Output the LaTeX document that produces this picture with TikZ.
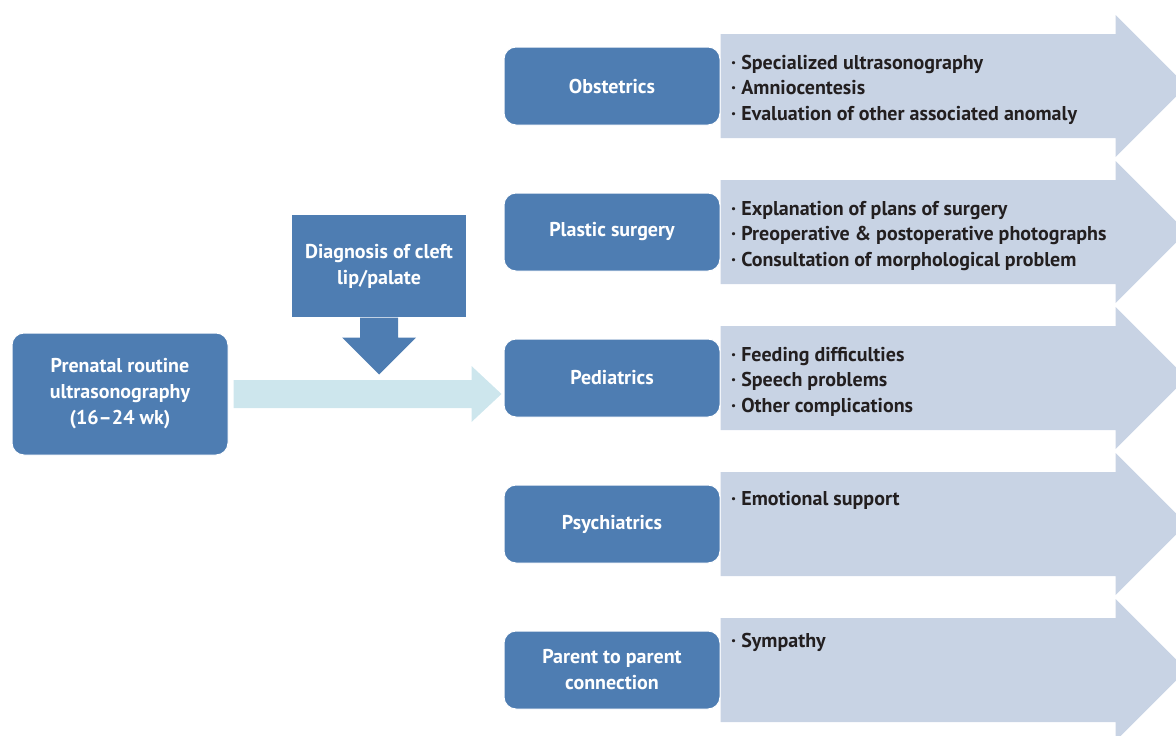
\documentclass[tikz,border=0pt]{standalone}
\usepackage{fontspec}
\setmainfont{PT Sans}
\usetikzlibrary{backgrounds}
\definecolor{deptblue}{RGB}{78,125,178}
\definecolor{panelgrey}{RGB}{200,211,228}
\definecolor{flowcyan}{RGB}{205,230,237}
\definecolor{listtext}{RGB}{35,31,32}

\begin{document}
\begin{tikzpicture}
[x=1pt,y=-1pt,%
  dept/.style={shape=rectangle,rounded corners=12pt,fill=deptblue,draw=white,
    line width=1pt,text=white,minimum width=216pt,minimum height=78pt,
    align=center,inner sep=0pt,font=\bfseries\fontsize{20}{26}\selectfont},%
  items/.style={anchor=north west,align=left,inner sep=0pt,text=listtext,
    font=\bfseries\fontsize{20}{25.5}\selectfont},%
  panel/.style={fill=panelgrey}]
\useasboundingbox (0,0) rectangle (1176,736);
\clip (0,0) rectangle (1176,736);

% left side
\node[dept,minimum height=122pt] (prenatal) at (120,394)
  {Prenatal routine\\ultrasonography\\(16--24 wk)};
\node[dept,rounded corners=0pt,draw=none,minimum width=174pt,minimum height=102pt]
  (diag) at (379,266) {Diagnosis of cleft\\lip/palate};

% departments
\foreach \name/\y/\txt in {obs/86/Obstetrics,plastic/232/Plastic surgery,
    ped/378/Pediatrics,psych/524/Psychiatrics,
    parent/670/{Parent to parent\\connection}}
  \node[dept] (\name) at (612,\y) {\txt};

% what each one does
\node[items] (obs-list) at (731,51)
  {\strut· Specialized ultrasonography\\· Amniocentesis\\· Evaluation of other associated anomaly};
\node[items] (plastic-list) at (731,197)
  {\strut· Explanation of plans of surgery\\· Preoperative \& postoperative photographs\\· Consultation of morphological problem};
\node[items] (ped-list) at (731,343)
  {\strut· Feeding difficulties\\· Speech problems\\· Other complications};
\node[items] (psych-list) at (731,487) {\strut· Emotional support};
\node[items] (parent-list) at (731,629) {\strut· Sympathy};

% big arrows behind
\begin{scope}[on background layer]
\foreach \name in {obs,plastic,ped,psych,parent}
  \fill[panel] ([yshift=52pt]\name.east) -- ++(395,0) -- ++(0,-19)
    -- ++(71,71) -- ++(-71,71) -- ++(0,-19) -- ++(-395,0) -- cycle;
\end{scope}

% diagnosis arrow
\fill[deptblue] ([xshift=-19pt]diag.south) -- ++(0,20) -- ++(-18,0)
  -- ++(37,37) -- ++(37,-37) -- ++(-18,0) -- ++(0,-20) -- cycle;

% referral arrow
\coordinate (tip) at ([xshift=-2pt]prenatal.east -| ped.west);
\fill[flowcyan] ([xshift=5pt,yshift=14pt]prenatal.east)
  -- ([xshift=-30pt,yshift=14pt]tip) -- ([xshift=-30pt,yshift=28pt]tip)
  -- (tip) -- ([xshift=-30pt,yshift=-28pt]tip)
  -- ([xshift=-30pt,yshift=-14pt]tip)
  -- ([xshift=5pt,yshift=-14pt]prenatal.east) -- cycle;
\end{tikzpicture}
\end{document}
